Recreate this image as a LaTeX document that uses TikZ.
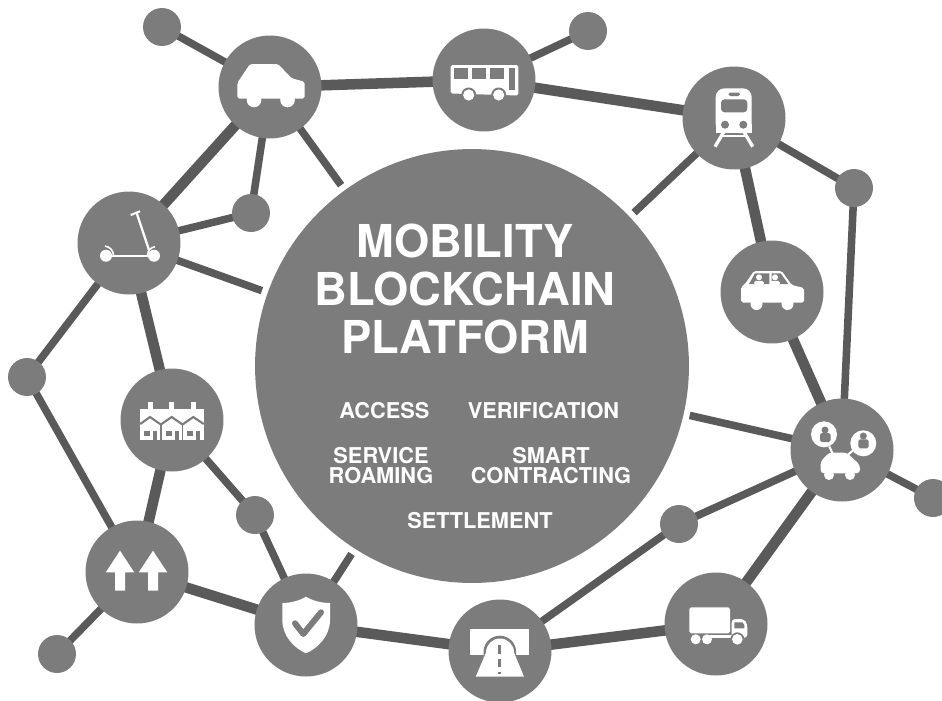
\documentclass[tikz,border=0pt]{standalone}
\usepackage{fontspec}
\setmainfont{TeX Gyre Heros}
\usetikzlibrary{backgrounds}
\definecolor{disc}{HTML}{7C7C7C}
\definecolor{link}{HTML}{5A5A5A}
\begin{document}
\begin{tikzpicture}[x=0.02cm,y=0.02cm]
    \tikzstyle{every node}+=[inner sep=0pt,outer sep=0pt]
    \tikzstyle{hubdisc}=[circle,fill=disc,minimum size=8.68cm]
    \tikzstyle{icondisc}=[circle,fill=disc,minimum size=2.06cm]
    \tikzstyle{junction}=[circle,fill=disc,minimum size=0.76cm]
    \tikzstyle{linkthick}=[link,line width=6pt,shorten <=-0.6pt,shorten >=-0.6pt]
    \tikzstyle{linkthin}=[link,line width=4.3pt,shorten <=-0.6pt,shorten >=-0.6pt]
    \tikzstyle{stub}=[link,line width=4.3pt,shorten <=-0.6pt,shorten >=0.125cm]
    \tikzstyle{titletext}=[text=white,font=\bfseries\fontsize{25.8}{27.3}\selectfont,align=center]
    \tikzstyle{smalltext}=[text=white,font=\bfseries\fontsize{12.4}{11.4}\selectfont,align=center]
    \useasboundingbox (0,0) rectangle (942,-700);
    \node [hubdisc] (hub) at (472,-366) {};
    \node [icondisc] (car) at (270,-87) {};
    \node [icondisc] (bus) at (484,-80) {};
    \node [icondisc] (train) at (734,-118) {};
    \node [icondisc] (sharedcar) at (772,-292) {};
    \node [icondisc] (people) at (842,-450) {};
    \node [icondisc] (truck) at (716,-624) {};
    \node [icondisc] (tunnel) at (500,-651) {};
    \node [icondisc] (shield) at (306,-625) {};
    \node [icondisc] (arrows) at (137,-572) {};
    \node [icondisc] (houses) at (172,-420) {};
    \node [icondisc] (scooter) at (129,-243) {};
    \node [junction] (j1) at (162,-27) {};
    \node [junction] (j2) at (251,-213) {};
    \node [junction] (j3) at (588,-31) {};
    \node [junction] (j4) at (854,-188) {};
    \node [junction] (j5) at (933,-498) {};
    \node [junction] (j6) at (679,-524) {};
    \node [junction] (j7) at (255,-515) {};
    \node [junction] (j8) at (57,-654) {};
    \node [junction] (j9) at (27,-377) {};
    \begin{scope}[on background layer]
    \draw [linkthin] (j1) -- (car);
    \draw [linkthick] (car) -- (bus);
    \draw [linkthin] (bus) -- (j3);
    \draw [linkthick] (bus) -- (train);
    \draw [linkthin] (train) -- (j4);
    \draw [linkthick] (train) -- (sharedcar);
    \draw [linkthick] (sharedcar) -- (people);
    \draw [linkthin] (j4) -- (people);
    \draw [linkthin] (people) -- (j5);
    \draw [linkthin] (people) -- (j6);
    \draw [linkthin] (j6) -- (tunnel);
    \draw [linkthick] (people) -- (truck);
    \draw [linkthick] (truck) -- (tunnel);
    \draw [linkthick] (tunnel) -- (shield);
    \draw [linkthick] (shield) -- (arrows);
    \draw [linkthin] (arrows) -- (j8);
    \draw [linkthin] (arrows) -- (j9);
    \draw [linkthick] (arrows) -- (houses);
    \draw [linkthin] (houses) -- (j7);
    \draw [linkthin] (j7) -- (shield);
    \draw [linkthick] (houses) -- (scooter);
    \draw [linkthin] (scooter) -- (j9);
    \draw [linkthick] (scooter) -- (car);
    \draw [linkthin] (scooter) -- (j2);
    \draw [linkthin] (j2) -- (car);
    \draw [stub] (car) -- (hub);
    \draw [stub] (scooter) -- (hub);
    \draw [stub] (train) -- (hub);
    \draw [stub] (people) -- (hub);
    \draw [stub] (shield) -- (hub);
    \end{scope}
    \node [titletext] (title) at (465,-289) {MOBILITY\\BLOCKCHAIN\\PLATFORM};
    \node [smalltext] (access) at (384.5,-411) {ACCESS};
    \node [smalltext] (verification) at (543.5,-411) {VERIFICATION};
    \node [smalltext] (roaming) at (381,-466) {SERVICE\\ROAMING};
    \node [smalltext] (contracting) at (551,-466) {SMART\\CONTRACTING};
    \node [smalltext] (settlement) at (480,-521) {SETTLEMENT};
    \fill [white,rounded corners=1pt] (237.3,-98.5) -- (237.3,-83) -- (250,-64) -- (278,-64) -- (291.7,-78.3) -- (304.5,-81.7) -- (304.5,-98.5) -- cycle;
    \fill [white] (254,-100) circle (7.3);
    \fill [white] (287.5,-100) circle (7.3);
    \fill [white,rounded corners=1pt] (450.7,-65) -- (518.3,-65) -- (518.3,-95.5) -- (450.7,-93.5) -- cycle;
    \foreach \x in {454.3,472.3,490.3}
        \fill [disc] (\x,-68.3) rectangle ++(14,-11);
    \fill [disc] (508.7,-68.3) rectangle (515.3,-90);
    \foreach \x in {468.7,498.7} {
        \fill [disc] (\x,-95) circle (7.5);
        \fill [white] (\x,-95) circle (5.6);
    }
    \fill [white,rounded corners=5pt] (715.7,-133) -- (715.7,-88.3) -- (751.7,-88.3) -- (751.7,-133) -- cycle;
    \fill [white] (715.7,-124) rectangle (751.7,-132.5);
    \fill [disc,rounded corners=2pt] (721,-99.3) rectangle (747.3,-112.3);
    \fill [disc,rounded corners=1pt] (728.3,-92.5) rectangle (740,-96);
    \fill [disc] (725,-124.7) circle (4);
    \fill [disc] (743.3,-124.7) circle (4);
    \fill [disc] (729,-132.5) rectangle (739,-134);
    \draw [white,line width=1.9pt] (724.3,-131) -- (715,-146.7);
    \draw [white,line width=1.9pt] (743.5,-131) -- (752.7,-146.7);
    \draw [white,line width=1.5pt] (722,-136) -- (746,-136);
    \fill [white,rounded corners=1pt] (741,-302.5) -- (741,-287) -- (745,-284) -- (754,-271) -- (781.7,-271) -- (791.7,-285) -- (804,-288) -- (804,-302.5) -- cycle;
    \fill [disc] (749,-284) -- (755,-273.3) -- (769.3,-273.3) -- (769.3,-284) -- cycle;
    \fill [disc] (771.7,-284) -- (771.7,-273.3) -- (780.7,-273.3) -- (788.3,-284) -- cycle;
    \foreach \x in {759,775} {
        \fill [white] (\x,-277.3) circle (3);
        \fill [white,rounded corners=1pt] (\x-5,-285) rectangle (\x+5,-280.8);
    }
    \fill [white] (756.5,-304) circle (6);
    \fill [white] (787.5,-304) circle (6);
    \fill [white] (824,-434.3) circle (13);
    \fill [white] (863.3,-443.3) circle (13);
    \fill [disc] (825,-430) circle (3.5);
    \fill [disc,rounded corners=1pt] (820,-433) rectangle (830.7,-442);
    \fill [disc] (863.3,-436) circle (3.5);
    \fill [disc,rounded corners=1pt] (858.3,-439.3) rectangle (868.7,-448.3);
    \draw [white,line width=1.2pt] (829.3,-446.5) -- (833.3,-455);
    \draw [white,line width=1.2pt] (854,-449.5) -- (846.5,-456);
    \fill [white,rounded corners=2pt] (820.5,-473.3) -- (820.5,-461.7) -- (829,-452.5) -- (846.7,-452.5) -- (860,-465) -- (860,-473.3) -- cycle;
    \fill [white] (829,-475) circle (5);
    \fill [white] (850,-475) circle (5);
    \fill [white,rounded corners=1pt] (689.3,-607.3) rectangle (730,-633.3);
    \fill [white,rounded corners=2pt] (731.7,-619) -- (744,-619) -- (747.3,-624) -- (747.3,-638) -- (731.7,-638) -- cycle;
    \fill [disc] (734.3,-622.3) -- (742.5,-622.3) -- (744.3,-625) -- (744.3,-628.3) -- (734.3,-628.3) -- cycle;
    \fill [white] (710,-635) rectangle (735,-638);
    \fill [white] (695.7,-639.3) circle (5);
    \fill [white] (707,-639.3) circle (5);
    \fill [disc] (737.3,-639.3) circle (7);
    \fill [white] (737.3,-639.3) circle (5.3);
    \fill [white] (470.3,-629.3) rectangle (528.7,-655);
    \fill [disc] (483.5,-656) -- (483.5,-652) arc (180:0:16.3) -- (516.1,-656) -- cycle;
    \fill [white] (475.7,-676.7) -- (486,-652.5) arc (180:0:14) -- (524,-676.7) -- cycle;
    \draw [disc,line width=1.5pt,dash pattern=on 5pt off 2.7pt] (499.7,-645) -- (499.7,-674);
    \fill [white] (306,-596.7) .. controls (313,-601) and (322,-603) .. (330,-603) -- (330,-620) .. controls (330,-636) and (318,-648) .. (306,-653.3) .. controls (294,-648) and (282.3,-636) .. (282.3,-620) -- (282.3,-603) .. controls (290,-603) and (299,-601) .. (306,-596.7) -- cycle;
    \draw [disc,line width=3.4pt,line cap=round,line join=round] (295,-623.3) -- (303.3,-634) -- (321,-612.3);
    \foreach \x in {120,153}
        \fill [white] (\x,-550.7) -- (\x+14.2,-572.3) -- (\x+5,-572.3) -- (\x+5,-590.7) -- (\x-5,-590.7) -- (\x-5,-572.3) -- (\x-14.2,-572.3) -- cycle;
    \fill [white] (140.3,-409.3) rectangle (203.7,-440);
    \foreach \x in {150.3,171.7,193.3} {
        \fill [white] (\x-2.5,-402.3) rectangle (\x+2.5,-410);
    }
    \draw [disc,line width=1.2pt] (140.3,-424) -- (150,-417) -- (160.8,-424.5) -- (171.7,-417) -- (182.5,-424.5) -- (193.3,-417) -- (203.7,-424);
    \draw [disc,line width=0.9pt] (160.8,-424.5) -- (160.8,-440);
    \draw [disc,line width=0.9pt] (182.5,-424.5) -- (182.5,-440);
    \foreach \x in {0,21.5,43} {
        \fill [disc] (144+\x,-431) rectangle (150+\x,-436.3);
        \fill [disc] (153.3+\x,-430.7) rectangle (157.3+\x,-440);
    }
    \fill [white] (106,-255.7) circle (6);
    \fill [white] (154,-255.7) circle (6);
    \draw [white,line width=1.2pt] (106,-255.7) -- (154,-255.7);
    \draw [white,line width=1.3pt] (136.7,-213) -- (149,-250);
    \draw [white,line width=1.2pt] (130.7,-215) -- (140,-211.3);
    \draw [white,line width=0.9pt] (105,-246) .. controls (110,-247) and (113,-250) .. (113.5,-255);
    \draw [white,line width=0.9pt] (147.5,-255) .. controls (148,-250) and (151,-247.5) .. (155,-246.7);
\end{tikzpicture}
\end{document}
